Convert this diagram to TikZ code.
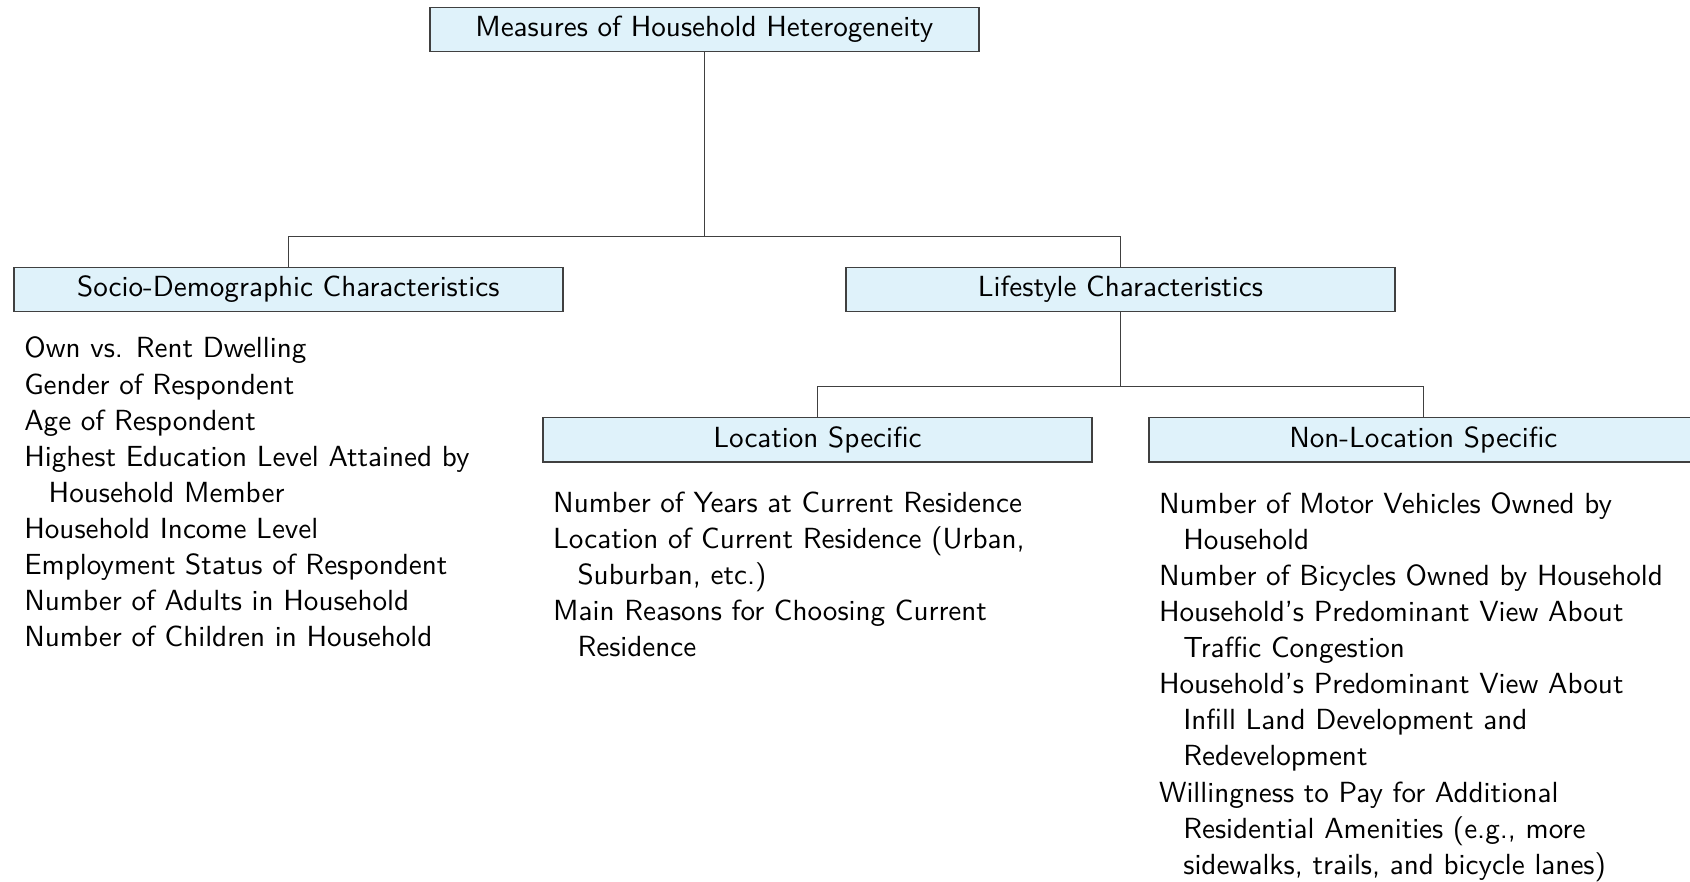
\documentclass[tikz,border=0pt]{standalone}
\usepackage{xcolor}
\usepackage{tikz}
\usetikzlibrary{positioning,calc}
\definecolor{hhfill}{RGB}{223,242,250}
\definecolor{hhline}{RGB}{64,64,64}

\begin{document}
\begin{tikzpicture}[
 font=\sffamily\fontsize{9.57}{11.85}\selectfont, node distance=0pt,
 cat/.style={rectangle, draw=hhline, line width=0.5pt, fill=hhfill,
 minimum width=180.5pt, minimum height=14.6pt, inner sep=0pt, text=black},
 items/.style={anchor=north west, align=left, inner sep=0pt, text=black},
 link/.style={draw=hhline, line width=0.4pt},
]
\useasboundingbox (0,0) rectangle (555.7pt,-290pt);
\node[cat] (root) at (231.6pt,-9.7pt) {Measures of Household Heterogeneity};
\node[cat, below=70.4pt of root, xshift=-136.8pt] (soc) {Socio-Demographic Characteristics};
\node[cat, below=70.4pt of root, xshift=136.8pt] (life) {Lifestyle Characteristics};
\node[cat, below=34.3pt of life, xshift=-99.6pt] (loc) {Location Specific};
\node[cat, below=34.3pt of life, xshift=99.6pt] (nonloc) {Non-Location Specific};
\draw[link] (root.south) |- ([yshift=10pt]soc.north) -- (soc.north);
\draw[link] (root.south) |- ([yshift=10pt]life.north) -- (life.north);
\draw[link] (life.south) |- ([yshift=10pt]loc.north) -- (loc.north);
\draw[link] (life.south) |- ([yshift=10pt]nonloc.north) -- (nonloc.north);
\node[items] (soclist) at ([xshift=3.5pt,yshift=-7.9pt]soc.south west)
 {Own vs. Rent Dwelling\\Gender of Respondent\\Age of Respondent\\
 Highest Education Level Attained by\\\hspace*{8pt}Household Member\\
 Household Income Level\\Employment Status of Respondent\\
 Number of Adults in Household\\Number of Children in Household};
\node[items] (loclist) at ([xshift=3.4pt,yshift=-9.4pt]loc.south west)
 {Number of Years at Current Residence\\
 Location of Current Residence (Urban,\\\hspace*{8pt}Suburban, etc.)\\
 Main Reasons for Choosing Current\\\hspace*{8pt}Residence};
\node[items] (nonloclist) at ([xshift=3.4pt,yshift=-9.7pt]nonloc.south west)
 {Number of Motor Vehicles Owned by\\\hspace*{8pt}Household\\
 Number of Bicycles Owned by Household\\
 Household's Predominant View About\\\hspace*{8pt}Traffic Congestion\\
 Household's Predominant View About\\\hspace*{8pt}Infill Land Development and\\
 \hspace*{8pt}Redevelopment\\
 Willingness to Pay for Additional\\\hspace*{8pt}Residential Amenities (e.g., more\\
 \hspace*{8pt}sidewalks, trails, and bicycle lanes)};
\end{tikzpicture}
\end{document}
